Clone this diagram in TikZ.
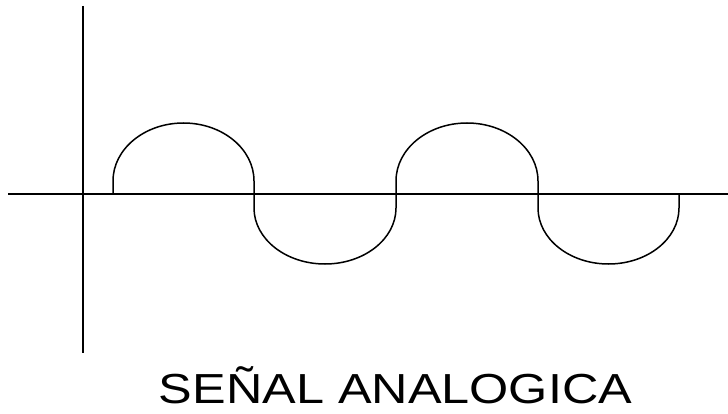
\documentclass[tikz,border=0pt]{standalone}
\usepackage{fontspec}
\setmainfont{Liberation Sans}
\begin{document}
\begin{tikzpicture}[x=1pt,y=1pt,
  axisline/.style={line width=1.4pt,black},
  waveline/.style={line width=1.5pt,black,line join=round},
  caption/.style={inner sep=0pt,anchor=base,font=\fontsize{42}{42}\selectfont}]
\useasboundingbox (0,0) rectangle (728,413);
% axes
\draw[axisline] (8,219) -- (728,219);
\draw[axisline] (83,407) -- (83,60);
% wave
\draw[waveline] (113,219) -- (113,232)
  arc[start angle=180,end angle=0,x radius=70.5,y radius=58] -- (254,205)
  arc[start angle=180,end angle=360,x radius=71,y radius=56] -- (396,232)
  arc[start angle=180,end angle=0,x radius=71,y radius=58] -- (538,205)
  arc[start angle=180,end angle=360,x radius=70.5,y radius=56] -- (679,219);
% caption
\node[caption] (title) at (395.5,10) {\scalebox{1.2}[1]{SEÑAL ANALOGICA}};
\end{tikzpicture}
\end{document}
